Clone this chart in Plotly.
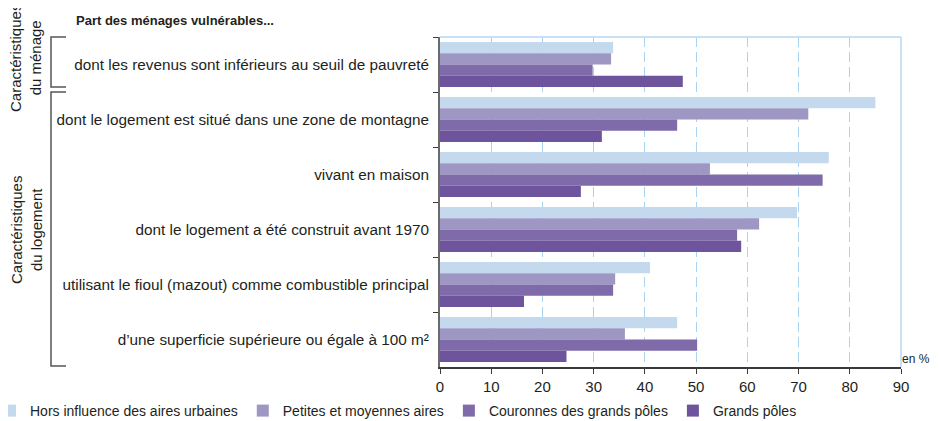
import plotly.graph_objects as go

categories = [
    "dont les revenus sont inférieurs au seuil de pauvreté",
    "dont le logement est situé dans une zone de montagne",
    "vivant en maison",
    "dont le logement a été construit avant 1970",
    "utilisant le fioul (mazout) comme combustible principal",
    "d’une superficie supérieure ou égale à 100 m²",
]
series_names = [
    "Hors influence des aires urbaines",
    "Petites et moyennes aires",
    "Couronnes des grands pôles",
    "Grands pôles",
]
hors_influence = [33.8, 85.0, 75.9, 69.7, 41.0, 46.3]
petites_moyennes = [33.4, 71.9, 52.7, 62.3, 34.2, 36.1]
couronnes = [29.8, 46.3, 74.7, 58.0, 33.8, 50.2]
grands_poles = [47.4, 31.6, 27.5, 58.8, 16.4, 24.7]
x_ticks = [0, 10, 20, 30, 40, 50, 60, 70, 80, 90]

series_values = [hors_influence, petites_moyennes, couronnes, grands_poles]
colors = ["#c4d9ed", "#9e96c3", "#7f6aaa", "#6e549c"]

FONT = "Liberation Sans, Arial, Helvetica, sans-serif"
TXT = "#231f20"

# the page body adds an 8px offset; size the figure to fit the window
OFF = 8
W, H = 939 - OFF, 421 - OFF
L, R, T, B = 440 - OFF, W - (901 - OFF), 37 - OFF, H - (367 - OFF)
PW, PH = W - L - R, H - T - B


def px_x(px):
    return (px - OFF - L) / PW


def px_y(py):
    return (H - B - (py - OFF)) / PH


fig = go.Figure()
for name, vals, col in zip(series_names, series_values, colors):
    fig.add_trace(go.Bar(
        y=categories, x=vals, name=name, orientation="h",
        marker=dict(color=col, line=dict(width=0)),
    ))

fig.update_layout(
    width=W, height=H,
    margin=dict(l=L, r=R, t=T, b=B, autoexpand=False),
    paper_bgcolor="white", plot_bgcolor="white",
    font=dict(family=FONT, size=15, color=TXT),
    barmode="group", bargap=0.18, bargroupgap=0,
    showlegend=True,
    legend=dict(orientation="h", x=px_x(-10), xanchor="left", xref="paper",
                y=px_y(411), yanchor="middle", yref="paper",
                font=dict(family=FONT, size=14, color=TXT),
                itemwidth=30, traceorder="normal", bgcolor="rgba(0,0,0,0)"),
    xaxis=dict(range=[0, 90], tickvals=x_ticks, ticks="outside", ticklen=5,
               tickcolor="#3a3a3a", showline=True, linecolor="#3a3a3a",
               linewidth=1.5, showgrid=True, gridcolor="#a8d4f1",
               griddash="10px,5px", gridwidth=1, zeroline=False,
               tickfont=dict(size=15, color=TXT), automargin=False),
    yaxis=dict(autorange="reversed", type="category", tickson="boundaries",
               ticks="outside", ticklen=5, tickcolor="#3a3a3a",
               showline=True, linecolor="#6a6a6a", linewidth=2,
               showgrid=False, tickfont=dict(size=15.3, color=TXT),
               ticklabelstandoff=6, automargin=False),
)

# plot frame: top line and right border (light blue)
fig.add_shape(type="line", xref="x domain", yref="y domain", x0=0, x1=1, y0=1, y1=1,
              line=dict(color="#c8e1f4", width=2))
fig.add_shape(type="line", xref="x domain", yref="y domain", x0=1, x1=1, y0=0, y1=1,
              line=dict(color="#c8e1f4", width=2))

# title
fig.add_annotation(text="<b>Part des ménages vulnérables...</b>", xref="paper", yref="paper",
                   x=px_x(74), y=px_y(20), xanchor="left", yanchor="middle",
                   showarrow=False, font=dict(size=13, color=TXT))
# unit label
fig.add_annotation(text="en %", xref="paper", yref="paper", x=px_x(901), y=px_y(359),
                   xanchor="left", yanchor="middle", borderpad=0,
                   showarrow=False, font=dict(size=12, color=TXT))

# group brackets
bracket_col = "#555555"
for y0, y1 in [(37, 87), (92, 366)]:
    xs = [66, 51, 51, 66]
    ys = [y0, y0, y1, y1]
    path = "M " + " L ".join(f"{px_x(a)},{px_y(b)}" for a, b in zip(xs, ys))
    fig.add_shape(type="path", path=path, xref="paper", yref="paper",
                  line=dict(color=bracket_col, width=1.5))

for text, yc in [("Caractéristiques<br>du ménage", 58), ("Caractéristiques<br>du logement", 230)]:
    fig.add_annotation(text=text, xref="paper", yref="paper",
                       x=px_x(26), y=px_y(yc),
                       xanchor="center", yanchor="middle", textangle=-90,
                       showarrow=False, font=dict(size=15, color=TXT))

fig.write_html("out.html")
